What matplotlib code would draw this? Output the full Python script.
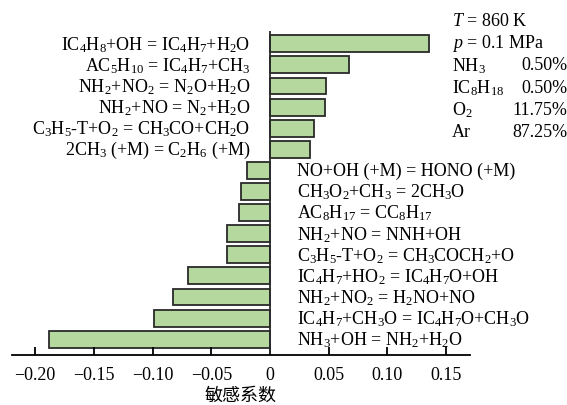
import matplotlib.pyplot as plt
import numpy as np

plt.rcParams['font.family'] = ['Liberation Serif', 'DejaVu Serif']
plt.rcParams['mathtext.fontset'] = 'custom'
plt.rcParams['mathtext.rm'] = 'Liberation Serif'
plt.rcParams['mathtext.it'] = 'Liberation Serif:italic'

# 反应（从上到下）和敏感系数
reactions = [
    'IC$_4$H$_8$+OH = IC$_4$H$_7$+H$_2$O',
    'AC$_5$H$_{10}$ = IC$_4$H$_7$+CH$_3$',
    'NH$_2$+NO$_2$ = N$_2$O+H$_2$O',
    'NH$_2$+NO = N$_2$+H$_2$O',
    'C$_3$H$_5$-T+O$_2$ = CH$_3$CO+CH$_2$O',
    '2CH$_3$ (+M) = C$_2$H$_6$ (+M)',
    'NO+OH (+M) = HONO (+M)',
    'CH$_3$O$_2$+CH$_3$ = 2CH$_3$O',
    'AC$_8$H$_{17}$ = CC$_8$H$_{17}$',
    'NH$_2$+NO = NNH+OH',
    'C$_3$H$_5$-T+O$_2$ = CH$_3$COCH$_2$+O',
    'IC$_4$H$_7$+HO$_2$ = IC$_4$H$_7$O+OH',
    'NH$_2$+NO$_2$ = H$_2$NO+NO',
    'IC$_4$H$_7$+CH$_3$O = IC$_4$H$_7$O+CH$_3$O',
    'NH$_3$+OH = NH$_2$+H$_2$O',
]
coef = [0.135, 0.067, 0.048, 0.047, 0.037, 0.034,
        -0.020, -0.025, -0.0265, -0.0365, -0.037, -0.070, -0.0825, -0.0985, -0.1885]

xticks = [-0.20, -0.15, -0.10, -0.05, 0, 0.05, 0.10, 0.15]
xticklabels = ['\u22120.20', '\u22120.15', '\u22120.10', '\u22120.05', '0', '0.05', '0.10', '0.15']

cond_names = ['NH$_3$', 'IC$_8$H$_{18}$', 'O$_2$', 'Ar']
cond_values = ['0.50%', '0.50%', '11.75%', '87.25%']

n = len(reactions)
y = np.arange(n)[::-1]

fig = plt.figure(figsize=(5.67, 4.06), dpi=100)
ax = fig.add_axes([11.7 / 567, 50 / 406, 458 / 567, 327 / 406])

ax.barh(y, coef, height=0.8, color='#b5d89f', edgecolor='#2a2a2a', linewidth=1.3)
ax.vlines(0, -0.75, n - 1 + 0.6, color='#2a2a2a', linewidth=1.3)

fs = 13
for yi, c, r in zip(y, coef, reactions):
    if c > 0:
        ax.text(-0.017, yi, r, ha='right', va='center', fontsize=fs)
    else:
        ax.text(0.023, yi, r, ha='left', va='center', fontsize=fs)

ax.set_xlim(-0.22, 0.17)
ax.set_ylim(-0.75, n - 1 + 0.75)
ax.set_xticks(xticks)
ax.set_xticklabels(xticklabels, fontsize=fs)
ax.set_yticks([])
for s in ['top', 'right', 'left']:
    ax.spines[s].set_visible(False)
ax.spines['bottom'].set_linewidth(1.3)
ax.tick_params(axis='x', direction='in', length=6, width=1.3, pad=8)
ax.set_xlabel('敏感系数', fontsize=13, family=['Noto Sans CJK SC'], labelpad=2)

# 实验条件
xn, xv = 0.155, 0.253
ax.text(xn, n + 0.1, '$T$ = 860 K', fontsize=fs, va='center', ha='left', clip_on=False)
ax.text(xn, n - 1 + 0.05, '$p$ = 0.1 MPa', fontsize=fs, va='center', ha='left', clip_on=False)
for i, (nm, v) in enumerate(zip(cond_names, cond_values)):
    yy = n - 2 - i - 0.05 * i
    ax.text(xn, yy, nm, fontsize=fs, va='center', ha='left', clip_on=False)
    ax.text(xv, yy, v, fontsize=fs, va='center', ha='right', clip_on=False)

plt.savefig('out.png', dpi=100)
